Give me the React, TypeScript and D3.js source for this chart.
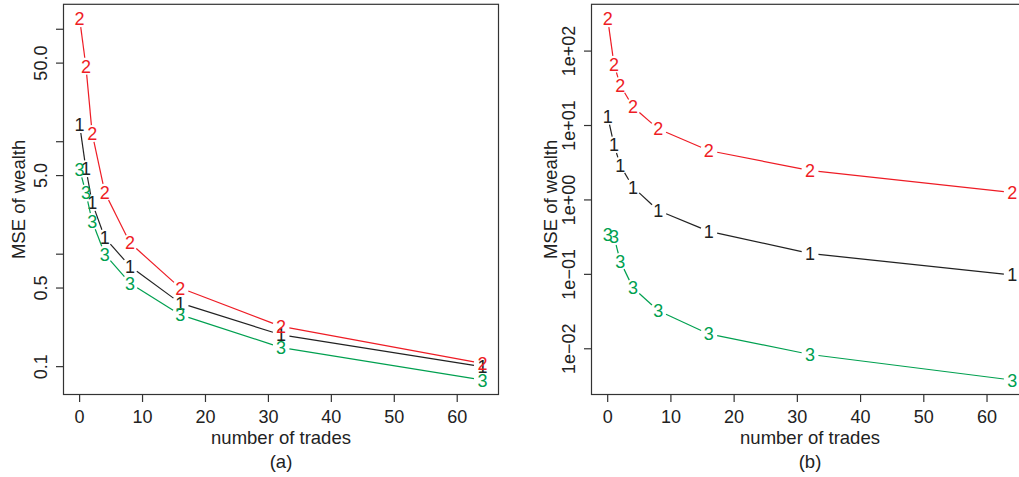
import React from "react";
import * as d3 from "d3";

const trades = [0, 1, 2, 4, 8, 16, 32, 64];

// Panel (a)
const aSeries1 = [14.2, 5.74, 2.86, 1.4, 0.78, 0.367, 0.192, 0.1];
const aSeries2 = [124, 47, 11.8, 3.55, 1.26, 0.5, 0.228, 0.107];
const aSeries3 = [5.7, 3.5, 1.96, 1.0, 0.553, 0.289, 0.148, 0.076];

// Panel (b)
const bSeries1 = [13.3, 5.5, 2.9, 1.49, 0.72, 0.378, 0.191, 0.098];
const bSeries2 = [272, 66.3, 34.5, 17.8, 9.0, 4.6, 2.49, 1.26];
const bSeries3 = [0.34, 0.32, 0.149, 0.066, 0.0325, 0.0158, 0.0084, 0.0038];

const xTicks = [0, 10, 20, 30, 40, 50, 60];
const aYTicks = [0.1, 0.5, 1, 5, 10, 50, 100];
const aYTickLabels = ["0.1", "0.5", "", "5.0", "", "50.0", ""];
const bYTicks = [0.01, 0.1, 1, 10, 100];
const bYTickLabels = ["1e\u221202", "1e\u221201", "1e+00", "1e+01", "1e+02"];

const seriesNames = ["1", "2", "3"];
const seriesColors = ["#222222", "#ee1c25", "#00a050"];

const FONT = "'Liberation Sans', Arial, Helvetica, sans-serif";
const TXT = "#222";

type PanelProps = {
  left: number;
  right: number;
  top: number;
  bottom: number;
  series: number[][];
  yTicks: number[];
  yTickLabels: string[];
  yLabelX: number;
  yTickLabelX: number;
  caption: string;
};

function Panel(p: PanelProps) {
  const xMin = d3.min(trades)!;
  const xMax = d3.max(trades)!;
  const xPad = (xMax - xMin) * 0.04;
  const x = d3.scaleLinear().domain([xMin - xPad, xMax + xPad]).range([p.left, p.right]);

  const all = p.series.flat();
  const lmin = Math.log10(d3.min(all)!);
  const lmax = Math.log10(d3.max(all)!);
  const lpad = (lmax - lmin) * 0.04;
  const y = d3
    .scaleLog()
    .domain([Math.pow(10, lmin - lpad), Math.pow(10, lmax + lpad)])
    .range([p.bottom, p.top]);

  const gap = 8.5;
  const fs = 18;
  const cx = (p.left + p.right) / 2;
  const cy = (p.top + p.bottom) / 2;

  return (
    <g>
      {p.series.map((vals, si) => {
        const pts = vals.map((v, i) => [x(trades[i]), y(v)] as [number, number]);
        const segs: JSX.Element[] = [];
        for (let i = 0; i < pts.length - 1; i++) {
          const [x1, y1] = pts[i];
          const [x2, y2] = pts[i + 1];
          const dx = x2 - x1;
          const dy = y2 - y1;
          const len = Math.sqrt(dx * dx + dy * dy);
          if (len <= 2 * gap) continue;
          const ux = dx / len;
          const uy = dy / len;
          segs.push(
            <line
              key={"s" + i}
              x1={x1 + ux * gap}
              y1={y1 + uy * gap}
              x2={x2 - ux * gap}
              y2={y2 - uy * gap}
              stroke={seriesColors[si]}
              strokeWidth={1.2}
            />
          );
        }
        return (
          <g key={si}>
            {segs}
            {pts.map(([px, py], i) => (
              <text
                key={"t" + i}
                x={px}
                y={py + fs * 0.36}
                textAnchor="middle"
                fontSize={fs}
                fontFamily={FONT}
                fill={seriesColors[si]}
              >
                {seriesNames[si]}
              </text>
            ))}
          </g>
        );
      })}
      <rect
        x={p.left}
        y={p.top}
        width={p.right - p.left}
        height={p.bottom - p.top}
        fill="none"
        stroke="#333"
        strokeWidth={1.2}
      />
      {xTicks.map((t) => (
        <g key={"xt" + t}>
          <line x1={x(t)} x2={x(t)} y1={p.bottom} y2={p.bottom + 7.5} stroke="#333" strokeWidth={1.2} />
          <text
            x={x(t)}
            y={p.bottom + 28}
            textAnchor="middle"
            fontSize={fs}
            fontFamily={FONT}
            fill={TXT}
          >
            {t}
          </text>
        </g>
      ))}
      {p.yTicks.map((t, i) => (
        <g key={"yt" + t}>
          <line x1={p.left - 7.5} x2={p.left} y1={y(t)} y2={y(t)} stroke="#333" strokeWidth={1.2} />
          {p.yTickLabels[i] && (
            <text
              transform={`translate(${p.yTickLabelX},${y(t)}) rotate(-90)`}
              textAnchor="middle"
              fontSize={fs}
              fontFamily={FONT}
              fill={TXT}
            >
              {p.yTickLabels[i]}
            </text>
          )}
        </g>
      ))}
      <text
        x={cx}
        y={p.bottom + 49.5}
        textAnchor="middle"
        fontSize={18.5}
        fontFamily={FONT}
        fill={TXT}
      >
        number of trades
      </text>
      <text
        x={cx}
        y={p.bottom + 73}
        textAnchor="middle"
        fontSize={18.5}
        fontFamily={FONT}
        fill={TXT}
      >
        {p.caption}
      </text>
      <text
        transform={`translate(${p.yLabelX},${cy}) rotate(-90)`}
        textAnchor="middle"
        fontSize={18.5}
        fontFamily={FONT}
        fill={TXT}
      >
        MSE of wealth
      </text>
    </g>
  );
}

export default function App() {
  return (
    <svg
      width={1019}
      height={477}
      style={{ position: "absolute", left: 0, top: 0, background: "#fff", overflow: "hidden" }}
    >
      <rect x={0} y={0} width={1019} height={477} fill="#fff" />
      <Panel
        left={63.5}
        right={498.5}
        top={4.3}
        bottom={394.5}
        series={[aSeries1, aSeries2, aSeries3]}
        yTicks={aYTicks}
        yTickLabels={aYTickLabels}
        yLabelX={25}
        yTickLabelX={47}
        caption="(a)"
      />
      <Panel
        left={591.5}
        right={1028.5}
        top={4.3}
        bottom={394.5}
        series={[bSeries1, bSeries2, bSeries3]}
        yTicks={bYTicks}
        yTickLabels={bYTickLabels}
        yLabelX={556.5}
        yTickLabelX={575}
        caption="(b)"
      />
    </svg>
  );
}
